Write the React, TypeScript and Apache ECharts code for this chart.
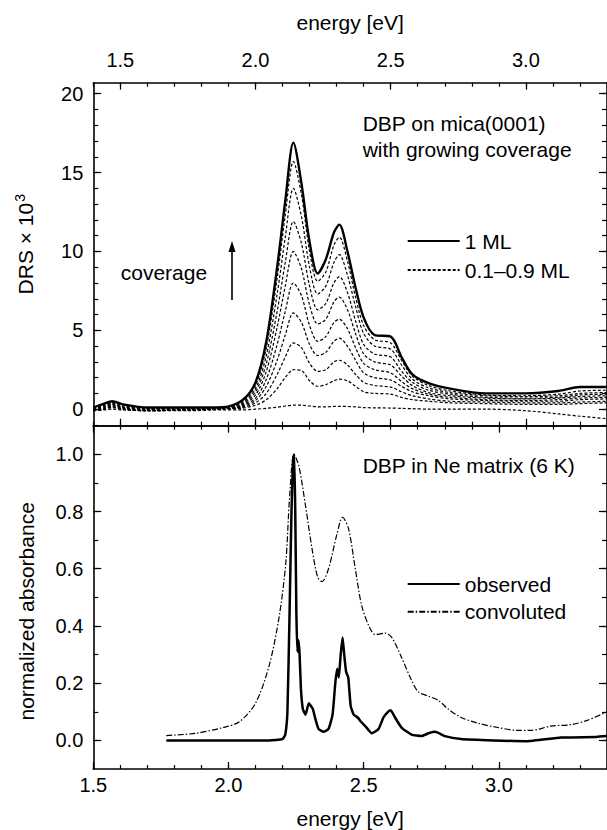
import React, { useEffect, useRef } from "react";
import * as echarts from "echarts";

const FONT = "'Liberation Sans', Arial, Helvetica, sans-serif";

// ---------- tick values ----------
const TOP_X_MAJOR = [1.5, 2.0, 2.5, 3.0];
const TOP_X_MINOR = [1.4, 1.5, 1.6, 1.7, 1.8, 1.9, 2.0, 2.1, 2.2, 2.3, 2.4, 2.5, 2.6, 2.7, 2.8, 2.9, 3.0, 3.1, 3.2, 3.3];
const BOT_X_MAJOR = [1.5, 2.0, 2.5, 3.0];
const BOT_X_MINOR = [1.5, 1.6, 1.7, 1.8, 1.9, 2.0, 2.1, 2.2, 2.3, 2.4, 2.5, 2.6, 2.7, 2.8, 2.9, 3.0, 3.1, 3.2, 3.3, 3.4];
const TOP_Y_MAJOR = [0, 5, 10, 15, 20];
const TOP_Y_MINOR = [-1, 0, 1, 2, 3, 4, 5, 6, 7, 8, 9, 10, 11, 12, 13, 14, 15, 16, 17, 18, 19, 20];
const BOT_Y_MAJOR = [0, 0.2, 0.4, 0.6, 0.8, 1.0];
const BOT_Y_MINOR = [0, 0.1, 0.2, 0.3, 0.4, 0.5, 0.6, 0.7, 0.8, 0.9, 1.0];

// ---------- top panel: DRS (energy on top axis) ----------
const TOP_E = [1.40, 1.44, 1.47, 1.51, 1.60, 1.75, 1.88, 1.95, 2.00, 2.04, 2.08, 2.11, 2.14, 2.17, 2.20, 2.23, 2.26, 2.29, 2.31, 2.34, 2.37, 2.40, 2.44, 2.50, 2.54, 2.58, 2.64, 2.72, 2.85, 3.00, 3.12, 3.20, 3.30];
const ML_10 = [0.1, 0.35, 0.5, 0.3, 0.1, 0.1, 0.12, 0.55, 1.7, 4.3, 9.0, 13.2, 16.9, 14.3, 10.6, 8.6, 9.5, 11.2, 11.7, 10.0, 7.7, 5.8, 4.7, 4.6, 3.3, 2.2, 1.65, 1.3, 1.0, 1.0, 1.15, 1.4, 1.4];
const ML_09 = [0.05, 0.3, 0.45, 0.25, 0.05, 0.05, 0.1, 0.45, 1.5, 3.9, 8.3, 12.3, 15.7, 13.6, 10.0, 8.1, 8.7, 10.4, 10.9, 9.4, 7.1, 5.3, 4.4, 4.2, 3.1, 2.1, 1.5, 1.15, 0.9, 0.85, 0.95, 1.15, 1.2];
const ML_08 = [0.0, 0.25, 0.4, 0.2, 0.0, 0.05, 0.08, 0.38, 1.3, 3.4, 7.3, 10.9, 14.0, 12.2, 9.0, 7.3, 7.8, 9.3, 9.8, 8.5, 6.5, 4.8, 4.0, 3.8, 2.8, 1.9, 1.35, 1.05, 0.85, 0.8, 0.85, 1.0, 1.05];
const ML_07 = [0.0, 0.2, 0.35, 0.15, 0.0, 0.0, 0.06, 0.3, 1.1, 2.9, 6.2, 9.3, 11.9, 10.5, 7.8, 6.3, 6.7, 8.0, 8.4, 7.4, 5.6, 4.1, 3.5, 3.3, 2.4, 1.7, 1.2, 0.95, 0.75, 0.7, 0.75, 0.9, 0.95];
const ML_06 = [-0.05, 0.15, 0.3, 0.1, -0.05, 0.0, 0.05, 0.25, 0.9, 2.4, 5.2, 7.8, 10.0, 8.9, 6.6, 5.4, 5.7, 6.8, 7.1, 6.3, 4.8, 3.5, 3.0, 2.8, 2.1, 1.5, 1.05, 0.85, 0.7, 0.65, 0.7, 0.8, 0.85];
const ML_05 = [-0.05, 0.1, 0.25, 0.1, -0.05, 0.0, 0.04, 0.2, 0.7, 1.9, 4.1, 6.2, 8.0, 7.2, 5.3, 4.3, 4.6, 5.5, 5.7, 5.1, 3.9, 2.9, 2.5, 2.3, 1.75, 1.3, 0.95, 0.75, 0.6, 0.55, 0.6, 0.7, 0.75];
const ML_04 = [-0.1, 0.05, 0.2, 0.05, -0.1, -0.05, 0.03, 0.15, 0.55, 1.45, 3.1, 4.7, 6.1, 5.5, 4.1, 3.4, 3.6, 4.3, 4.5, 4.0, 3.1, 2.3, 2.0, 1.85, 1.45, 1.1, 0.85, 0.65, 0.55, 0.5, 0.5, 0.6, 0.65];
const ML_03 = [-0.1, 0.0, 0.15, 0.0, -0.1, -0.05, 0.02, 0.1, 0.4, 1.0, 2.2, 3.3, 4.2, 3.9, 2.9, 2.4, 2.5, 3.0, 3.1, 2.8, 2.2, 1.7, 1.5, 1.4, 1.1, 0.85, 0.65, 0.5, 0.45, 0.4, 0.4, 0.45, 0.5];
const ML_02 = [-0.1, 0.0, 0.1, 0.0, -0.1, -0.05, 0.0, 0.06, 0.25, 0.6, 1.3, 2.0, 2.5, 2.45, 1.8, 1.45, 1.55, 1.8, 1.9, 1.8, 1.45, 1.1, 1.0, 0.95, 0.75, 0.6, 0.5, 0.4, 0.35, 0.3, 0.3, 0.35, 0.4];
const ML_01 = [-0.1, -0.05, 0.0, -0.05, -0.1, -0.1, -0.05, -0.05, 0.0, 0.05, 0.12, 0.2, 0.25, 0.25, 0.2, 0.15, 0.15, 0.17, 0.18, 0.17, 0.14, 0.1, 0.08, 0.07, 0.05, 0.03, 0.0, 0.0, 0.0, -0.1, -0.3, -0.45, -0.6];
const DASHED_SET = [ML_01, ML_02, ML_03, ML_04, ML_05, ML_06, ML_07, ML_08, ML_09];

// ---------- bottom panel: Ne matrix ----------
const OBS_E = [1.77, 1.85, 1.95, 2.05, 2.15, 2.20, 2.21, 2.218, 2.226, 2.233, 2.239, 2.243, 2.247, 2.251, 2.255, 2.259, 2.263, 2.268, 2.275, 2.285, 2.297, 2.305, 2.312, 2.32, 2.333, 2.352, 2.37, 2.385, 2.395, 2.402, 2.408, 2.415, 2.422, 2.428, 2.435, 2.443, 2.452, 2.463, 2.478, 2.49, 2.506, 2.53, 2.555, 2.573, 2.59, 2.6, 2.616, 2.64, 2.677, 2.714, 2.74, 2.765, 2.8, 2.86, 2.98, 3.1, 3.23, 3.36, 3.4];
const OBS_V = [0.0, 0.0, 0.0, 0.0, 0.0, 0.005, 0.02, 0.1, 0.45, 0.8, 0.98, 1.0, 0.8, 0.45, 0.31, 0.35, 0.3, 0.18, 0.11, 0.09, 0.13, 0.12, 0.11, 0.08, 0.04, 0.03, 0.04, 0.09, 0.2, 0.25, 0.22, 0.3, 0.36, 0.3, 0.24, 0.22, 0.12, 0.09, 0.08, 0.065, 0.05, 0.025, 0.04, 0.08, 0.1, 0.105, 0.08, 0.045, 0.02, 0.015, 0.025, 0.03, 0.015, 0.005, 0.0, -0.003, 0.01, 0.012, 0.015];
const CONV_E = [1.77, 1.88, 1.98, 2.04, 2.10, 2.15, 2.187, 2.212, 2.226, 2.242, 2.26, 2.285, 2.309, 2.33, 2.346, 2.37, 2.401, 2.422, 2.444, 2.469, 2.493, 2.524, 2.543, 2.58, 2.604, 2.64, 2.677, 2.702, 2.739, 2.776, 2.812, 2.861, 2.923, 2.996, 3.07, 3.119, 3.192, 3.266, 3.327, 3.4];
const CONV_V = [0.017, 0.025, 0.045, 0.065, 0.13, 0.26, 0.43, 0.62, 0.85, 1.0, 0.96, 0.82, 0.67, 0.57, 0.555, 0.6, 0.72, 0.78, 0.74, 0.6, 0.47, 0.39, 0.37, 0.375, 0.36, 0.29, 0.21, 0.17, 0.155, 0.14, 0.11, 0.08, 0.06, 0.045, 0.035, 0.035, 0.05, 0.055, 0.07, 0.1];

const zip = (xs: number[], ys: number[]) => xs.map((x, i) => [x, ys[i]]);

const AXIS_COLOR = "#000";

function axis(kind: "x" | "y", grid: number, pos: string, min: number, max: number, ticks: number[], len: number, showLine: boolean, extra: any = {}) {
  return {
    type: "value",
    gridIndex: grid,
    position: pos,
    min,
    max,
    axisLine: { show: showLine, onZero: false, lineStyle: { color: AXIS_COLOR, width: 1.6 } },
    axisTick: { show: true, inside: true, length: len, customValues: ticks, lineStyle: { color: AXIS_COLOR, width: 1.2 } },
    axisLabel: { show: false },
    splitLine: { show: false },
    ...extra,
  };
}

const labelStyle = (fmt: (v: number) => string, margin: number, values: number[]) => ({
  show: true,
  customValues: values,
  formatter: fmt,
  margin,
  color: "#000",
  fontSize: 20,
  fontFamily: FONT,
});

export default function App() {
  const ref = useRef<HTMLDivElement>(null);
  useEffect(() => {
    if (!ref.current) return;
    const chart = echarts.init(ref.current, undefined, { renderer: "svg" });
    const G0 = { left: 93.3, top: 82.7, width: 516, height: 343 };
    const G1 = { left: 93.3, top: 425.7, width: 516, height: 344.3 };
    const TMIN = 1.4, TMAX = 3.3, BMIN = 1.5, BMAX = 3.4;
    const fmt1 = (v: number) => v.toFixed(1);
    const fmt0 = (v: number) => String(Math.round(v));

    const xAxis = [
      axis("x", 0, "top", TMIN, TMAX, TOP_X_MAJOR, 7, true, {
        axisLabel: labelStyle(fmt1, 13, TOP_X_MAJOR),
        name: "energy [eV]",
        nameLocation: "middle",
        nameGap: 50,
        nameTextStyle: { fontSize: 21, color: "#000", fontFamily: FONT },
      }),
      axis("x", 0, "top", TMIN, TMAX, TOP_X_MINOR, 4, false),
      axis("x", 0, "bottom", TMIN, TMAX, TOP_X_MAJOR, 7, true),
      axis("x", 0, "bottom", TMIN, TMAX, TOP_X_MINOR, 4, false),
      axis("x", 1, "top", BMIN, BMAX, BOT_X_MAJOR, 7, true),
      axis("x", 1, "top", BMIN, BMAX, BOT_X_MINOR, 4, false),
      axis("x", 1, "bottom", BMIN, BMAX, BOT_X_MAJOR, 7, true, {
        axisLabel: labelStyle(fmt1, 6, BOT_X_MAJOR),
        name: "energy [eV]",
        nameLocation: "middle",
        nameGap: 39,
        nameTextStyle: { fontSize: 21, color: "#000", fontFamily: FONT },
      }),
      axis("x", 1, "bottom", BMIN, BMAX, BOT_X_MINOR, 4, false),
    ];

    const yAxis = [
      axis("y", 0, "left", -1.05, 20.7, TOP_Y_MAJOR, 8, true, {
        axisLabel: labelStyle(fmt0, 10, TOP_Y_MAJOR),
        name: "DRS × 10{sup|3}",
        nameLocation: "middle",
        nameGap: 56,
        nameRotate: 90,
        nameTextStyle: {
          fontSize: 21,
          color: "#000",
          fontFamily: FONT,
          padding: [0, 0, 0, 20],
          rich: { sup: { fontSize: 14, color: "#000", fontFamily: FONT, padding: [0, 0, 10, 1] } },
        },
      }),
      axis("y", 0, "left", -1.05, 20.7, TOP_Y_MINOR, 5, false),
      axis("y", 0, "right", -1.05, 20.7, TOP_Y_MAJOR, 8, true),
      axis("y", 0, "right", -1.05, 20.7, TOP_Y_MINOR, 5, false),
      axis("y", 1, "left", -0.1, 1.1, BOT_Y_MAJOR, 8, true, {
        axisLabel: labelStyle(fmt1, 10, BOT_Y_MAJOR),
        name: "normalized absorbance",
        nameLocation: "middle",
        nameGap: 56,
        nameRotate: 90,
        nameTextStyle: { fontSize: 21, color: "#000", fontFamily: FONT, padding: [0, 28, 0, 0] },
      }),
      axis("y", 1, "left", -0.1, 1.1, BOT_Y_MINOR, 5, false),
      axis("y", 1, "right", -0.1, 1.1, BOT_Y_MAJOR, 8, true),
      axis("y", 1, "right", -0.1, 1.1, BOT_Y_MINOR, 5, false),
    ];

    const dashedSeries = DASHED_SET.map((arr) => ({
      type: "line",
      name: "0.1–0.9 ML",
      xAxisIndex: 0,
      yAxisIndex: 0,
      data: zip(TOP_E, arr),
      symbol: "none",
      showSymbol: false,
      smooth: 0.3,
      color: "#000",
      lineStyle: { color: "#000", width: 1.2, type: [3, 2] },
      z: 2,
    }));

    const series = [
      ...dashedSeries,
      {
        type: "line",
        name: "1 ML",
        xAxisIndex: 0,
        yAxisIndex: 0,
        data: zip(TOP_E, ML_10),
        symbol: "none",
        showSymbol: false,
        smooth: 0.3,
        color: "#000",
        lineStyle: { color: "#000", width: 2.4 },
        z: 3,
      },
      {
        type: "line",
        name: "observed",
        xAxisIndex: 6,
        yAxisIndex: 4,
        data: zip(OBS_E, OBS_V),
        symbol: "none",
        showSymbol: false,
        smooth: 0.15,
        color: "#000",
        lineStyle: { color: "#000", width: 2.5 },
        z: 3,
      },
      {
        type: "line",
        name: "convoluted",
        xAxisIndex: 6,
        yAxisIndex: 4,
        data: zip(CONV_E, CONV_V),
        symbol: "none",
        showSymbol: false,
        smooth: 0.3,
        color: "#000",
        lineStyle: { color: "#000", width: 1.2, type: [6, 2, 1.5, 2] },
        z: 2,
      },
    ];

    const legendBase = {
      orient: "vertical",
      left: 406.7,
      itemWidth: 52,
      itemHeight: 14,
      selectedMode: false,
      padding: 0,
      itemStyle: { opacity: 0 },
      textStyle: { fontSize: 21, color: "#000", fontFamily: FONT },
    };

    const txt = (text: string, x: number, y: number) => ({
      type: "text",
      x,
      y,
      style: { text, fill: "#000", font: `21px ${FONT}`, verticalAlign: "middle", align: "left" },
    });

    chart.setOption({
      animation: false,
      textStyle: { fontFamily: FONT },
      grid: [G0, G1],
      xAxis,
      yAxis,
      legend: [
        { ...legendBase, top: 230.5, itemGap: 8, data: ["1 ML", "0.1–0.9 ML"] },
        { ...legendBase, top: 573.5, itemGap: 6.7, data: ["observed", "convoluted"] },
      ],
      series,
      graphic: [
        txt("DBP on mica(0001)", 362.7, 123),
        txt("with growing coverage", 362.7, 149),
        txt("coverage", 120.7, 272),
        txt("DBP in Ne matrix (6 K)", 362.7, 465),
        { type: "line", shape: { x1: 232, y1: 300, x2: 232, y2: 250 }, style: { stroke: "#000", lineWidth: 1.6 } },
        { type: "polygon", shape: { points: [[232, 241], [228.5, 252], [235.5, 252]] }, style: { fill: "#000" } },
      ],
    });
    return () => chart.dispose();
  }, []);
  return <div ref={ref} style={{ position: "fixed", left: 0, top: 0, width: 607, height: 830, background: "#fff" }} />;
}
